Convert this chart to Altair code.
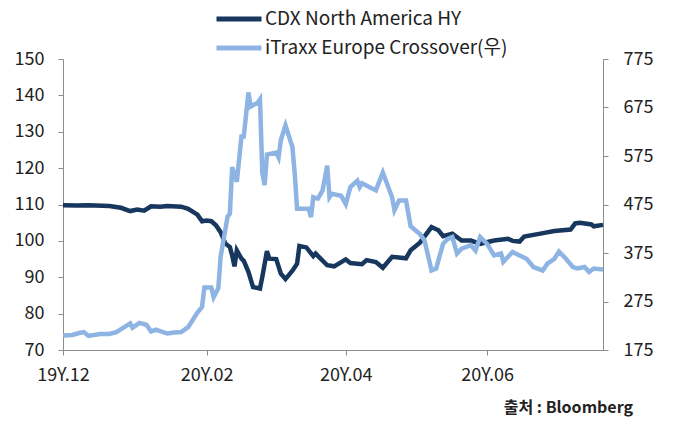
import altair as alt
import pandas as pd

# CDX North America HY (left axis)
cdx_dates = [
    "2019-12-01", "2019-12-07", "2019-12-12", "2019-12-21", "2019-12-26", "2019-12-30",
    "2020-01-02", "2020-01-05", "2020-01-08", "2020-01-12", "2020-01-15", "2020-01-21",
    "2020-01-24", "2020-01-28", "2020-01-30", "2020-02-01", "2020-02-03", "2020-02-05",
    "2020-02-07", "2020-02-09", "2020-02-11", "2020-02-12", "2020-02-13", "2020-02-14",
    "2020-02-16", "2020-02-17", "2020-02-19", "2020-02-21", "2020-02-24", "2020-02-25",
    "2020-02-27", "2020-02-28", "2020-03-02", "2020-03-04", "2020-03-06", "2020-03-09",
    "2020-03-11", "2020-03-12", "2020-03-15", "2020-03-18", "2020-03-19", "2020-03-24",
    "2020-03-27", "2020-04-01", "2020-04-03", "2020-04-08", "2020-04-10", "2020-04-14",
    "2020-04-17", "2020-04-21", "2020-04-27", "2020-04-29", "2020-05-03", "2020-05-08",
    "2020-05-11", "2020-05-13", "2020-05-17", "2020-05-21", "2020-05-25", "2020-05-29",
    "2020-06-04", "2020-06-10", "2020-06-12", "2020-06-15", "2020-06-17", "2020-06-24",
    "2020-06-30", "2020-07-07", "2020-07-09", "2020-07-11", "2020-07-16", "2020-07-17",
    "2020-07-21",
]
cdx_values = [
    109.8, 109.7, 109.8, 109.6, 109.1, 108.2,
    108.6, 108.3, 109.5, 109.4, 109.6, 109.4,
    108.8, 107.2, 105.4, 105.6, 105.4, 104.3,
    102.4, 99.3, 98.3, 96.0, 93.0, 97.4,
    95.1, 94.5, 91.5, 87.3, 86.9, 90.1,
    97.2, 95.1, 95.0, 91.0, 89.5, 91.8,
    93.7, 98.6, 98.2, 95.8, 96.5, 93.3,
    93.0, 94.9, 93.9, 93.6, 94.7, 94.2,
    92.6, 95.6, 95.2, 97.4, 99.5, 103.8,
    102.9, 101.3, 102.0, 100.1, 100.1, 99.2,
    100.1, 100.6, 100.0, 99.8, 101.2, 102.0,
    102.7, 103.1, 104.8, 105.0, 104.5, 104.0,
    104.4,
]

# iTraxx Europe Crossover (right axis)
itraxx_dates = [
    "2019-12-01", "2019-12-05", "2019-12-08", "2019-12-10", "2019-12-12", "2019-12-17",
    "2019-12-21", "2019-12-24", "2019-12-30", "2019-12-31", "2020-01-03", "2020-01-06",
    "2020-01-08", "2020-01-10", "2020-01-15", "2020-01-18", "2020-01-21", "2020-01-24",
    "2020-01-28", "2020-01-30", "2020-01-31", "2020-02-03", "2020-02-04", "2020-02-06",
    "2020-02-07", "2020-02-10", "2020-02-11", "2020-02-12", "2020-02-14", "2020-02-16",
    "2020-02-17", "2020-02-19", "2020-02-20", "2020-02-23", "2020-02-24", "2020-02-25",
    "2020-02-26", "2020-02-27", "2020-03-02", "2020-03-03", "2020-03-04", "2020-03-06",
    "2020-03-09", "2020-03-10", "2020-03-11", "2020-03-16", "2020-03-17", "2020-03-18",
    "2020-03-20", "2020-03-22", "2020-03-24", "2020-03-25", "2020-03-26", "2020-03-30",
    "2020-04-01", "2020-04-03", "2020-04-06", "2020-04-07", "2020-04-08", "2020-04-14",
    "2020-04-17", "2020-04-21", "2020-04-22", "2020-04-24", "2020-04-27", "2020-04-29",
    "2020-05-03", "2020-05-05", "2020-05-08", "2020-05-10", "2020-05-13", "2020-05-15",
    "2020-05-17", "2020-05-19", "2020-05-21", "2020-05-25", "2020-05-27", "2020-05-29",
    "2020-06-01", "2020-06-04", "2020-06-07", "2020-06-08", "2020-06-12", "2020-06-15",
    "2020-06-18", "2020-06-21", "2020-06-25", "2020-06-27", "2020-06-30", "2020-07-02",
    "2020-07-05", "2020-07-08", "2020-07-10", "2020-07-13", "2020-07-15", "2020-07-17",
    "2020-07-21",
]
itraxx_values = [
    205, 206, 210, 212, 204, 208,
    208, 212, 230, 221, 231, 227,
    213, 217, 209, 211, 212, 222,
    252, 264, 304, 304, 284, 302,
    367, 450, 456, 552, 522, 615,
    615, 706, 677, 685, 692, 540,
    515, 578, 582, 572, 608, 638,
    593, 538, 466, 466, 449, 490,
    487, 504, 555, 490, 497, 493,
    476, 511, 524, 511, 519, 504,
    541, 490, 463, 483, 483, 430,
    414, 401, 339, 343, 394, 404,
    408, 374, 384, 391, 380, 408,
    394, 370, 374, 357, 377, 370,
    363, 346, 339, 353, 363, 378,
    363, 346, 343, 346, 336, 343,
    341,
]

series_names = ["CDX North America HY", "iTraxx Europe Crossover(우)"]
series_colors = ["#17375E", "#8DB4E2"]
left_ticks = [70, 80, 90, 100, 110, 120, 130, 140, 150]
right_ticks = [175, 275, 375, 475, 575, 675, 775]

cdx_df = pd.DataFrame({"date": cdx_dates, "value": cdx_values, "series": series_names[0]})
itr_df = pd.DataFrame({"date": itraxx_dates, "value": itraxx_values, "series": series_names[1]})

FONT = "Noto Sans CJK KR"
AXIS_GRAY = "#8C8C8C"
TEXT = "#222222"

x_enc = alt.X(
    "date:T",
    scale=alt.Scale(
        type="utc",
        domain=[alt.DateTime(year=2019, month=12, date=1, utc=True),
                alt.DateTime(year=2020, month=7, date=21, utc=True)],
    ),
    axis=alt.Axis(
        title=None,
        values=[alt.DateTime(year=2019, month=12, date=1, utc=True),
                alt.DateTime(year=2020, month=2, date=1, utc=True),
                alt.DateTime(year=2020, month=4, date=1, utc=True),
                alt.DateTime(year=2020, month=6, date=1, utc=True)],
        labelExpr="utcFormat(datum.value, '%y') + 'Y.' + utcFormat(datum.value, '%m')",
        grid=False,
        domainColor=AXIS_GRAY,
        tickColor=AXIS_GRAY,
        tickSize=5,
        labelFontSize=18,
        labelColor=TEXT,
        labelFont=FONT,
        labelPadding=11,
        labelFlush=False,
        labelOverlap=False,
    ),
)

color_enc = alt.Color(
    "series:N",
    scale=alt.Scale(domain=series_names, range=series_colors),
    legend=alt.Legend(
        title=None,
        orient="none",
        legendX=166,
        legendY=-50,
        direction="vertical",
        symbolType="M-3,0H3",
        symbolSize=225,
        symbolStrokeWidth=5,
        labelFontSize=19,
        labelFont=FONT,
        labelColor=TEXT,
        labelLimit=400,
        rowPadding=9,
        labelOffset=16,
        padding=0,
    ),
)

left = alt.Chart(cdx_df).mark_line(strokeWidth=4.5).encode(
    x=x_enc,
    y=alt.Y(
        "value:Q",
        scale=alt.Scale(domain=[70, 150], nice=False, zero=False),
        axis=alt.Axis(
            title=None, orient="left", values=left_ticks, grid=False,
            domainColor=AXIS_GRAY, tickColor=AXIS_GRAY, tickSize=5,
            labelFontSize=18, labelColor=TEXT, labelFont=FONT, labelPadding=14,
        ),
    ),
    color=color_enc,
)

right = alt.Chart(itr_df).mark_line(strokeWidth=4.5).encode(
    x=x_enc,
    y=alt.Y(
        "value:Q",
        scale=alt.Scale(domain=[175, 775], nice=False, zero=False),
        axis=alt.Axis(
            title=None, orient="right", values=right_ticks, grid=False,
            domainColor=AXIS_GRAY, tickColor=AXIS_GRAY, tickSize=5,
            labelFontSize=18, labelColor=TEXT, labelFont=FONT, labelPadding=15,
        ),
    ),
    color=color_enc,
)

chart = (
    alt.layer(left, right)
    .resolve_scale(y="independent")
    .properties(
        width=540,
        height=291,
        autosize=alt.AutoSizeParams(type="none"),
        padding={"left": 55, "top": 51, "right": 60, "bottom": 68},
        title=alt.TitleParams(
            text="출처 : Bloomberg",
            orient="bottom",
            anchor="end",
            frame="group",
            dx=30,
            offset=16,
            fontSize=16,
            fontWeight="bold",
            font=FONT,
            color=TEXT,
        ),
    )
    .configure_view(stroke=None)
)

chart.save("out.html", embed_options={"renderer": "svg", "actions": False})
